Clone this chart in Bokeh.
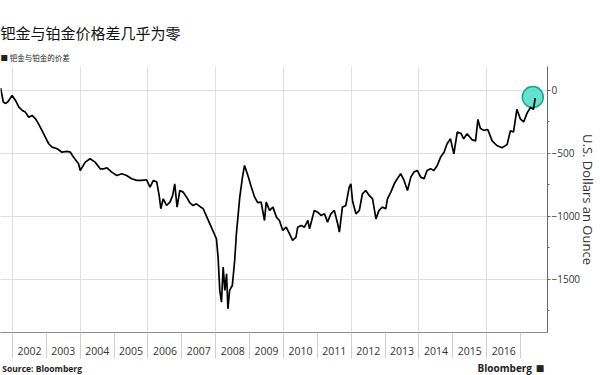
from bokeh.plotting import figure
from bokeh.models import FixedTicker, Title, ColumnDataSource
from bokeh.layouts import column
from bokeh.core.properties import value
from bokeh.embed import file_html
from bokeh.resources import INLINE

# ---- data ----
years = [2001.65, 2001.73, 2001.79, 2001.86, 2001.99, 2002.09, 2002.19, 2002.29, 2002.38, 2002.48,
         2002.58, 2002.68, 2002.77, 2002.87, 2002.97, 2003.07, 2003.17, 2003.32, 2003.46, 2003.61,
         2003.71, 2003.80, 2003.95, 2004.00, 2004.15, 2004.29, 2004.44, 2004.59, 2004.69, 2004.79,
         2004.93, 2005.08, 2005.23, 2005.37, 2005.52, 2005.67, 2005.82, 2005.96, 2006.06, 2006.16,
         2006.26, 2006.33, 2006.38, 2006.45, 2006.55, 2006.65, 2006.73, 2006.79, 2006.86, 2006.94,
         2007.04, 2007.14, 2007.24, 2007.33, 2007.43, 2007.53, 2007.63, 2007.73, 2007.87, 2008.02,
         2008.07, 2008.12, 2008.17, 2008.22, 2008.27, 2008.32, 2008.36, 2008.41, 2008.49, 2008.56,
         2008.61, 2008.71, 2008.79, 2008.85, 2008.95, 2009.05, 2009.15, 2009.24, 2009.34, 2009.44,
         2009.49, 2009.59, 2009.69, 2009.79, 2009.88, 2009.98, 2010.08, 2010.18, 2010.27, 2010.37,
         2010.42, 2010.52, 2010.62, 2010.72, 2010.77, 2010.91, 2011.01, 2011.11, 2011.21, 2011.30,
         2011.40, 2011.50, 2011.60, 2011.65, 2011.74, 2011.84, 2011.94, 2011.99, 2012.04, 2012.14,
         2012.24, 2012.33, 2012.43, 2012.53, 2012.63, 2012.73, 2012.82, 2012.92, 2013.02, 2013.07,
         2013.17, 2013.27, 2013.36, 2013.46, 2013.56, 2013.66, 2013.76, 2013.85, 2013.95, 2014.05,
         2014.15, 2014.24, 2014.34, 2014.44, 2014.54, 2014.64, 2014.74, 2014.83, 2014.93, 2015.03,
         2015.13, 2015.24, 2015.32, 2015.42, 2015.56, 2015.67, 2015.74, 2015.81, 2015.91, 2016.03,
         2016.16, 2016.30, 2016.45, 2016.60, 2016.70, 2016.79, 2016.89, 2016.99, 2017.09, 2017.19,
         2017.29, 2017.38, 2017.43]
spread = [18, -92, -103, -92, -40, -79, -132, -159, -172, -212,
          -198, -225, -265, -317, -370, -423, -450, -463, -490, -484,
          -490, -529, -582, -635, -569, -542, -569, -622, -622, -614,
          -648, -675, -661, -675, -701, -714, -714, -709, -767, -714,
          -727, -833, -939, -860, -913, -886, -833, -741, -926, -794,
          -807, -847, -893, -913, -900, -920, -939, -1000, -1085, -1177,
          -1323, -1587, -1680, -1402, -1587, -1455, -1733, -1587, -1548, -1349,
          -1138, -847, -688, -595, -675, -767, -847, -890, -886, -1032,
          -886, -952, -926, -1005, -1032, -1111, -1085, -1138, -1190, -1164,
          -1085, -1071, -1085, -1032, -1098, -952, -966, -992, -979, -1045,
          -979, -952, -1058, -1124, -926, -913, -767, -741, -880, -979,
          -952, -820, -794, -833, -860, -1019, -952, -926, -939, -860,
          -807, -741, -701, -661, -714, -794, -688, -648, -635, -688,
          -701, -635, -622, -635, -595, -529, -490, -423, -384, -503,
          -331, -340, -384, -344, -390, -400, -230, -300, -317, -310,
          -400, -437, -455, -430, -320, -330, -150, -225, -250, -180,
          -135, -150, -60]

highlight_year = [2017.36]
highlight_value = [-53]

year_labels = [str(y) for y in range(2002, 2017)]
y_ticks = [0, -500, -1000, -1500]
y_minor = [-250, -750, -1250, -1750]

title_text = "钯金与铂金价格差几乎为零"
legend_text = "■ 钯金与铂金的价差"
axis_title = "U.S. Dollars an Ounce"
source_text = "Source:  Bloomberg"
brand_text = "Bloomberg"

# ---- main figure ----
p = figure(width=600, height=360, output_backend="svg", toolbar_location=None,
           x_range=(2001.647, 2017.794), y_range=(-1921, 190),
           y_axis_location="right", min_border_left=0, min_border_right=51,
           min_border_top=66, min_border_bottom=28)
p.outline_line_color = None

# header texts as titles (the later-added title sits nearer the frame)
p.title.text = title_text
p.title.align = "left"
p.title.text_font = "Noto Sans CJK SC"
p.title.text_font_size = "15px"
p.title.text_font_style = "normal"
p.title.text_color = "#111111"
p.title.standoff = 6
p.add_layout(Title(text=legend_text, align="left", text_font="Noto Sans CJK SC",
                   text_font_size="7.5px", text_font_style="normal", text_color="#222222",
                   standoff=8), "above")

# x axis: labels centred in each year, separators at year boundaries
mids = [y + 0.5 for y in range(2002, 2017)]
p.xaxis.ticker = FixedTicker(ticks=mids, minor_ticks=list(range(2002, 2018)))
p.xaxis.major_label_overrides = {m: lab for m, lab in zip(mids, year_labels)}
p.xaxis.major_tick_out = 0
p.xaxis.major_tick_in = 0
p.xaxis.minor_tick_out = 26
p.xaxis.minor_tick_in = 0
p.xaxis.minor_tick_line_color = "#cfcfcf"
p.xaxis.axis_line_color = "#8a8a8a"
p.xaxis.major_label_standoff = -12
p.xaxis.major_label_text_font = "Open Sans"
p.xaxis.major_label_text_font_size = "10.5px"
p.xaxis.major_label_text_color = "#333333"

# y axis on the right
p.yaxis.ticker = FixedTicker(ticks=y_ticks, minor_ticks=y_minor)
p.yaxis.major_tick_out = 3
p.yaxis.major_tick_in = 0
p.yaxis.minor_tick_out = 2
p.yaxis.minor_tick_in = 0
p.yaxis.axis_line_color = "#666666"
p.yaxis.major_tick_line_color = "#666666"
p.yaxis.minor_tick_line_color = "#666666"
p.yaxis.major_label_standoff = 1
p.yaxis.major_label_text_font = "Open Sans"
p.yaxis.major_label_text_font_size = "10px"
p.yaxis.major_label_text_color = "#333333"
p.yaxis.axis_label = axis_title
p.yaxis.axis_label_standoff = -4
p.yaxis.axis_label_text_font = "Open Sans"
p.yaxis.axis_label_text_font_size = "13px"
p.yaxis.axis_label_text_font_style = "normal"
p.yaxis.axis_label_text_color = "#333333"

# grids
p.xgrid.ticker = FixedTicker(ticks=list(range(2002, 2018, 2)))
p.ygrid.ticker = FixedTicker(ticks=y_ticks)
p.xgrid.grid_line_color = "#dedede"
p.ygrid.grid_line_color = "#dedede"

# highlight circle and line
p.scatter(highlight_year, highlight_value, size=21, marker="circle",
          fill_color="#3fd9c1", fill_alpha=0.8, line_color="#19a58f", line_width=1.5)
src = ColumnDataSource(dict(x=years, y=spread))
p.line("x", "y", source=src, line_color="black", line_width=1.7)

# ---- footer strip ----
f = figure(width=600, height=15, output_backend="svg", toolbar_location=None,
           x_range=(0, 600), y_range=(0, 1), x_axis_location=None, y_axis_location=None,
           min_border=0, min_border_left=0, min_border_right=0, min_border_top=0,
           min_border_bottom=0)
f.outline_line_color = None
f.grid.visible = False
f.text(x=[2], y=[0.5], text=[source_text], text_font=value("Open Sans"),
       text_font_size="8.5px", text_font_style="bold", text_color="#222222",
       text_align="left", text_baseline="middle")
f.text(x=[583], y=[0.5], text=[brand_text], text_font=value("Open Sans"),
       text_font_size="10px", text_font_style="bold", text_color="#222222",
       text_align="right", text_baseline="middle")
f.text(x=[587], y=[0.5], text=["■"], text_font=value("DejaVu Sans"),
       text_font_size="9px", text_color="#222222",
       text_align="left", text_baseline="middle")

layout = column(p, f, spacing=0)
open("out.html", "w").write(file_html(layout, INLINE))
